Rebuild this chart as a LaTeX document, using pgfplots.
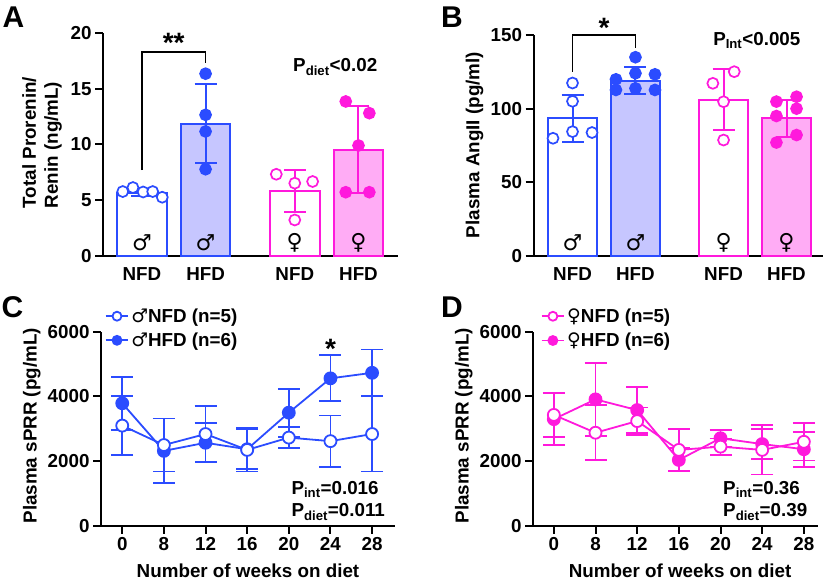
\documentclass[border=0pt]{standalone}
\usepackage{pgfplots}
\pgfplotsset{compat=1.18}
\usepackage{fontspec}
\setmainfont{Liberation Sans}
\newfontfamily\sym{DejaVu Sans}
\newcommand\fs{\fontsize{18.8}{22}\selectfont\bfseries}
\definecolor{cblue}{RGB}{43,76,255}
\definecolor{cbluef}{RGB}{198,198,255}
\definecolor{cmag}{RGB}{255,25,220}
\definecolor{cmagf}{RGB}{255,172,245}
\pgfplotsset{
  base/.style={anchor=south west, scale only axis,
    axis x line*=bottom, axis y line*=left,
    axis line style={-, line width=2pt, black},
    tick align=outside, major tick length=8pt,
    tick style={line width=2pt, black},
    tick label style={font=\fs}, label style={font=\fs},
    /pgf/number format/assume math mode=true,
    /pgf/number format/1000 sep={},
    scaled y ticks=false, clip=false},
  barpanel/.style={base, xtick={0,1,2.4,3.4}, xticklabels={NFD,HFD,NFD,HFD},
    every x tick/.append style={draw=none}},
  onebar/.style={ybar, bar width=0.78, bar shift=0pt, line width=2pt, draw=#1,
    /pgfplots/error bars/y dir=both, /pgfplots/error bars/y explicit,
    /pgfplots/error bars/error bar style={line width=2pt, draw=#1},
    /pgfplots/error bars/error mark options={rotate=90, mark size=11pt, line width=2pt, draw=#1}},
  pts/.style={only marks, mark=*, mark size=5.5pt, line width=1.7pt},
  ser/.style={line width=1.8pt, mark=*, mark size=6pt, color=#1,
    /pgfplots/error bars/y dir=both, /pgfplots/error bars/y explicit,
    /pgfplots/error bars/error bar style={line width=1.8pt, draw=#1},
    /pgfplots/error bars/error mark options={rotate=90, mark size=11pt, line width=1.8pt, draw=#1}},
  linepanel/.style={base, xmin=-0.51, ymin=0, ymax=6000,
    xtick={0,1,2,3,4,5,6}, xticklabels={0,8,12,16,20,24,28},
    ytick={0,2000,4000,6000},
    xlabel={Number of weeks on diet},
    legend style={anchor=north west, draw=none, fill=none, font=\fs,
      inner sep=0pt, row sep=5pt},
    legend cell align=left, reverse legend,
    legend image code/.code={\draw[mark repeat=2,mark phase=2, mark size=4.5pt]
      plot coordinates {(0cm,0cm)(0.4cm,0cm)(0.8cm,0cm)};}},
}
\begin{document}
\begin{tikzpicture}
\path[use as bounding box] (0,0) rectangle (827pt,585pt);
\node[font=\fontsize{30}{30}\selectfont\bfseries] at (13.5pt,567.5pt) {A};
\node[font=\fontsize{30}{30}\selectfont\bfseries] at (452pt,567.5pt) {B};
\node[font=\fontsize{30}{30}\selectfont\bfseries] at (12.5pt,277.5pt) {C};
\node[font=\fontsize{30}{30}\selectfont\bfseries] at (452pt,277.5pt) {D};

% ---------------- A
\begin{axis}[barpanel, at={(103pt,329pt)}, width=295pt, height=223pt,
  xmin=-0.61, xmax=4.02, ymin=0, ymax=20, ytick={0,5,10,15,20},
  ylabel={Total Prorenin/\\Renin (ng/mL)},
  ylabel style={align=left, at={(axis description cs:-0.207,0.509)}, anchor=center}]
\addplot[fill=white, onebar=cblue] coordinates {(0,5.69) +- (0,0.3)};
\addplot[fill=cbluef, onebar=cblue] coordinates {(1,11.86) +- (0,3.55)};
\addplot[fill=white, onebar=cmag] coordinates {(2.4,5.85) +- (0,1.87)};
\addplot[fill=cmagf, onebar=cmag] coordinates {(3.4,9.55) +- (0,3.86)};
\addplot[pts, cblue, mark options={fill=white}] coordinates {(-0.30,5.78) (-0.14,6.14) (0.02,5.74) (0.17,5.78) (0.32,5.27)};
\addplot[pts, cblue, mark options={fill=cblue}] coordinates {(1,16.35) (1,12.66) (1,11.17) (1,7.78)};
\addplot[pts, cmag, mark options={fill=white}] coordinates {(2.11,7.33) (2.4,6.53) (2.68,6.68) (2.4,3.23)};
\addplot[pts, cmag, mark options={fill=cmag}] coordinates {(3.2,13.86) (3.57,12.81) (3.4,9.91) (3.2,5.72) (3.57,5.72)};
\draw[line width=1.5pt] (axis cs:0,7.7) -- (axis cs:0,18.3) -- (axis cs:1,18.3) -- (axis cs:1,17.3);
\node[font=\fontsize{28}{28}\selectfont\bfseries] at (axis cs:0.5,19.1) {**};
\node[font=\fs, anchor=base west] at (axis cs:2.32,16.53) {P\textsubscript{diet}<0.02};
\node[font=\fontsize{22}{22}\selectfont\sym] at (axis cs:0,1.2) {♂};
\node[font=\fontsize{22}{22}\selectfont\sym] at (axis cs:1,1.2) {♂};
\node[font=\fontsize{22}{22}\selectfont\sym] at (axis cs:2.4,1.15) {♀};
\node[font=\fontsize{22}{22}\selectfont\sym] at (axis cs:3.4,1.15) {♀};
\end{axis}

% ---------------- B
\begin{axis}[barpanel, at={(533.5pt,329pt)}, width=289.5pt, height=221pt,
  xmin=-0.62, xmax=3.98, ymin=0, ymax=150, ytick={0,50,100,150},
  ylabel={Plasma AngII (pg/ml)},
  ylabel style={at={(axis description cs:-0.204,0.502)}, anchor=center}]
\addplot[fill=white, onebar=cblue] coordinates {(0,93.4) +- (0,16)};
\addplot[fill=cbluef, onebar=cblue] coordinates {(1,119) +- (0,9)};
\addplot[fill=white, onebar=cmag] coordinates {(2.4,106.1) +- (0,20.6)};
\addplot[fill=cmagf, onebar=cmag] coordinates {(3.4,93.5) +- (0,12.5)};
\addplot[pts, cblue, mark options={fill=white}] coordinates {(0,117.4) (0,105) (-0.31,79.9) (0,84.4) (0.31,83.8)};
\addplot[pts, cblue, mark options={fill=cblue}] coordinates {(1,134.9) (0.69,119.9) (1,124) (1.31,123.3) (0.69,112.7) (1,113.8) (1.31,112.7)};
\addplot[pts, cmag, mark options={fill=white}] coordinates {(2.23,117.2) (2.57,125.1) (2.4,104.7) (2.4,78.7)};
\addplot[pts, cmag, mark options={fill=cmag}] coordinates {(3.56,108.1) (3.24,104.8) (3.56,100) (3.24,95) (3.56,82.1) (3.24,77)};
\draw[line width=1.5pt] (axis cs:0,124.9) -- (axis cs:0,150) -- (axis cs:1,150) -- (axis cs:1,141.2);
\node[font=\fontsize{28}{28}\selectfont\bfseries] at (axis cs:0.5,154.8) {*};
\node[font=\fs, anchor=base west] at (axis cs:2.18,143.2) {P\textsubscript{Int}<0.005};
\node[font=\fontsize{22}{22}\selectfont\sym] at (axis cs:0,8.8) {♂};
\node[font=\fontsize{22}{22}\selectfont\sym] at (axis cs:1,8.8) {♂};
\node[font=\fontsize{22}{22}\selectfont\sym] at (axis cs:2.4,8.6) {♀};
\node[font=\fontsize{22}{22}\selectfont\sym] at (axis cs:3.4,8.6) {♀};
\end{axis}

% ---------------- C
\begin{axis}[linepanel, at={(101pt,59pt)}, width=294pt, height=194.3pt, xmax=6.55,
  ylabel={Plasma sPRR (pg/mL)},
  ylabel style={at={(axis description cs:-0.235,0.516)}, anchor=center},
  xlabel style={at={(axis description cs:0.5,-0.232)}, anchor=center},
  legend style={at={(axis description cs:0.012,1.13)}}]
\addplot[ser=cblue, mark options={fill=cblue}] coordinates {
 (0,3790) +- (0,820) (1,2320) +- (0,1000) (2,2570) +- (0,600) (3,2370) +- (0,620)
 (4,3500) +- (0,740) (5,4560) +- (0,710) (6,4730) +- (0,720)};
\addlegendentry{{\sym\mdseries ♂}HFD (n=6)}
\addplot[ser=cblue, mark options={fill=white}] coordinates {
 (0,3100) +- (0,910) (1,2500) +- (0,820) (2,2840) +- (0,870) (3,2350) +- (0,670)
 (4,2730) +- (0,330) (5,2620) +- (0,790) (6,2840) +- (0,1160)};
\addlegendentry{{\sym\mdseries ♂}NFD (n=5)}
\node[font=\fontsize{28}{28}\selectfont\bfseries] at (axis cs:5,5466) {*};
\node[font=\fs, anchor=base west] at (axis cs:3.98,988) {P\textsubscript{int}=0.016};
\node[font=\fs, anchor=base west] at (axis cs:3.98,278) {P\textsubscript{diet}=0.011};
\end{axis}

% ---------------- D
\begin{axis}[linepanel, at={(533pt,59pt)}, width=285pt, height=194.3pt, xmin=-0.5, xmax=6.34,
  ylabel={Plasma sPRR (pg/mL)},
  ylabel style={at={(axis description cs:-0.243,0.516)}, anchor=center},
  xlabel style={at={(axis description cs:0.516,-0.232)}, anchor=center},
  legend style={at={(axis description cs:0.026,1.13)}}]
\addplot[ser=cmag, mark options={fill=cmag}] coordinates {
 (0,3300) +- (0,800) (1,3910) +- (0,1130) (2,3580) +- (0,720) (3,2040) +- (0,360)
 (4,2710) +- (0,260) (5,2530) +- (0,470) (6,2370) +- (0,540)};
\addlegendentry{{\sym\mdseries ♀}HFD (n=6)}
\addplot[ser=cmag, mark options={fill=white}] coordinates {
 (0,3430) +- (0,680) (1,2880) +- (0,850) (2,3240) +- (0,420) (3,2350) +- (0,640)
 (4,2450) +- (0,250) (5,2350) +- (0,760) (6,2600) +- (0,580)};
\addlegendentry{{\sym\mdseries ♀}NFD (n=5)}
\node[font=\fs, anchor=base west] at (axis cs:3.98,988) {P\textsubscript{int}=0.36};
\node[font=\fs, anchor=base west] at (axis cs:3.98,278) {P\textsubscript{diet}=0.39};
\end{axis}
\end{tikzpicture}
\end{document}
